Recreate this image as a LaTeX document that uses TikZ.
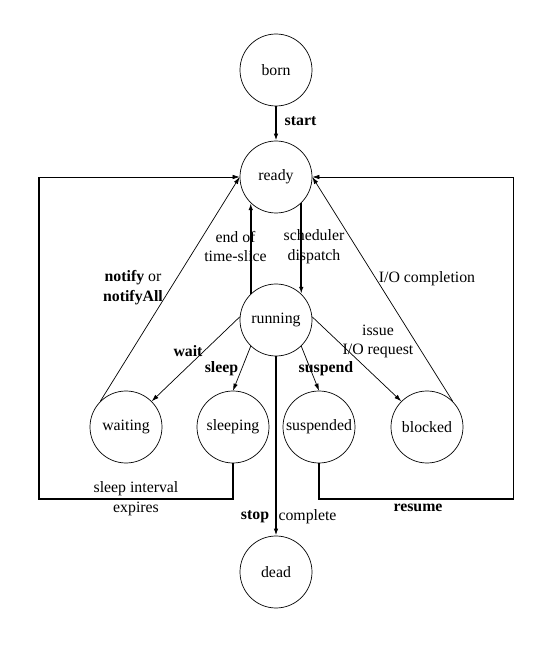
\documentclass[tikz,border=0pt]{standalone}
\usepackage{fontspec}
\setmainfont{Liberation Serif}
\usetikzlibrary{arrows.meta}
\begin{document}
\begin{tikzpicture}[>={Latex[length=4pt,width=2.6pt]},
    state/.style={draw,circle,minimum size=1.44cm,inner sep=0pt},
    heavy/.style={line width=0.95pt},
    every node/.append style={font=\fontsize{9}{11.3}\selectfont}]
\useasboundingbox (0,0) rectangle (11.08,12.92);
% states
\node[state] (born) at (5.52,11.52) {born};
\node[state] (ready) at (5.52,9.38) {ready};
\node[state] (running) at (5.52,6.52) {running};
\node[state] (waiting) at (2.52,4.38) {waiting};
\node[state] (sleeping) at (4.66,4.38) {sleeping};
\node[state] (suspended) at (6.38,4.38) {suspended};
\node[state] (blocked) at (8.54,4.38) {blocked};
\node[state] (dead) at (5.52,1.48) {dead};
\coordinate (lefttop) at (0.78,9.38);
\coordinate (leftbot) at (0.78,2.94);
\coordinate (righttop) at (10.27,9.38);
\coordinate (rightbot) at (10.27,2.94);

\draw[heavy,->] (born.south) -- (ready.north);
\draw[heavy,->] (running.134) -- (ready.226);
\draw[heavy,->] (ready.314) -- (running.46);
\draw[heavy,->] (running.south) -- (dead.north);
\draw[->] (waiting.135) -- (ready.west);
\draw[->] (blocked.45) -- (ready.east);
\draw[->] (running.175) -- (waiting.45);
\draw[->] (running.226) -- (sleeping.north);
\draw[->] (running.314) -- (suspended.north);
\draw[->] (running.5) -- (blocked.135);
\draw[heavy] (sleeping.south) |- (leftbot) -- (lefttop);
\draw[->] (lefttop) -- (ready.west);
\draw[heavy] (suspended.south) |- (rightbot) -- (righttop);
\draw[->] (righttop) -- (ready.east);

% labels
\node (lstart) at (6.01,10.50) {\textbf{start}};
\node[align=center] (lslice) at (4.71,7.99) {end of\\time-slice};
\node[align=center] (ldispatch) at (6.28,7.98) {scheduler\\dispatch};
\node[align=center] (lnotify) at (2.66,7.16) {\textbf{notify} or\\\textbf{notifyAll}};
\node (lio) at (8.54,7.35) {I/O completion};
\node[align=center] (lissue) at (7.56,6.09) {issue\\I/O request};
\node (lwait) at (3.76,5.89) {\textbf{wait}};
\node (lsleep) at (4.43,5.54) {\textbf{sleep}};
\node (lsuspend) at (6.52,5.54) {\textbf{suspend}};
\node[align=center] (linterval) at (2.72,2.94) {sleep interval\\expires};
\node (lresume) at (8.36,2.76) {\textbf{resume}};
\node (lstop) at (5.10,2.59) {\textbf{stop}};
\node (lcomplete) at (6.15,2.59) {complete};

\end{tikzpicture}
\end{document}
